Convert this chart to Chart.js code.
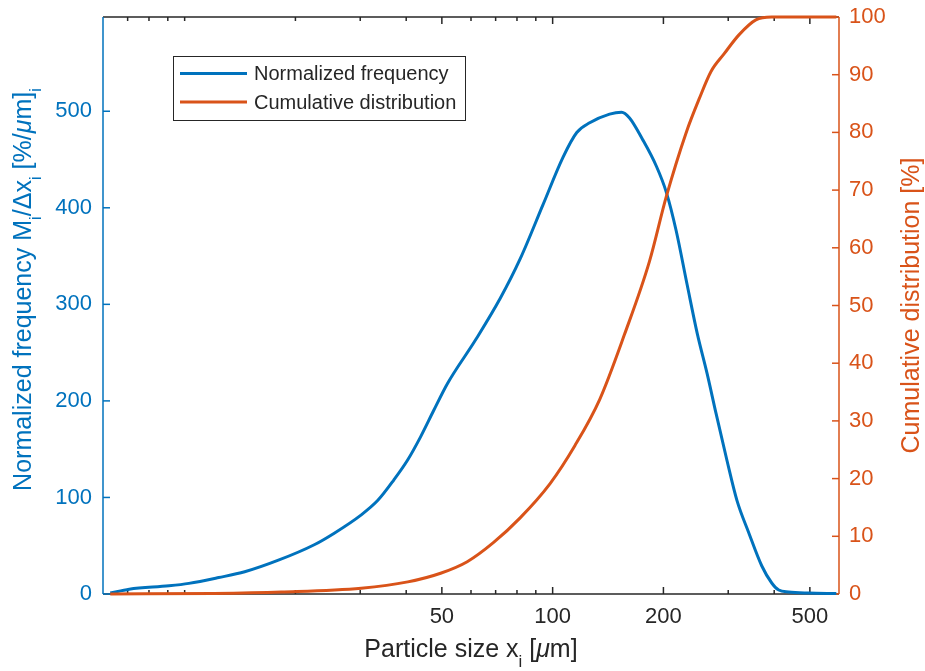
<!DOCTYPE html>
<html>
<head>
<title>Particle size distribution</title>
<script src="https://cdn.jsdelivr.net/npm/chart.js@4.4.0/dist/chart.umd.min.js"></script>
<style>
  html, body { margin: 0; padding: 0; background: #fff; }
  #chartBox { width: 925px; height: 671px; }
</style>
</head>
<body>
<div id="chartBox"><canvas id="psdChart" width="925" height="671"></canvas></div>
<script>
// normalized frequency: particle size [um] -> M_i/dx_i [%/um]
var freqSize  = [6.28, 7.07, 9.07, 10.27, 12.38, 14.56, 17.98, 22.5, 25.5, 30.2, 33.5, 37.0, 40.4, 43.8, 47.5, 51.8,
                 61.7, 72.0, 81.6, 94.1, 106.6, 116.3, 126.1, 142.8, 153.9, 161.8, 175.4, 191.4, 203.7, 216.7, 232.1,
                 247.1, 263.0, 278.0, 297.8, 316.8, 341.5, 370.2, 393.9, 411.5, 437.8, 496, 590];
var freqValue = [1, 5, 8.5, 11, 17, 23, 35, 51, 63, 82, 97, 118, 139, 163, 190, 218,
                 263, 306, 347, 403, 452, 478, 488, 497, 499, 493, 471, 443, 416, 376, 320,
                 270, 228, 187, 138, 97, 63, 29, 11.4, 4.1, 2.1, 1.0, 0.5];

// cumulative distribution: particle size [um] -> passing [%]
var cumSize  = [6.28, 12, 18.3, 30.2, 40.4, 49.6, 58.6, 69.0, 81.6, 98.3, 114.9, 134.2, 156.8, 183.2, 203.7,
                230.7, 250.1, 269.6, 292.2, 320.8, 356.6, 393.9, 466, 590];
var cumValue = [0, 0.1, 0.35, 1.0, 2.1, 3.6, 5.6, 8.9, 13.2, 19.1, 25.7, 33.7, 45.0, 57.6, 68.9,
                80.0, 85.8, 90.6, 93.6, 96.9, 99.5, 100, 100, 100];

// axis ticks
var xTicks = [7, 8, 9, 10, 20, 30, 40, 50, 60, 70, 80, 90, 100, 200, 300, 400, 500];
var xTickLabels = [50, 100, 200, 500];
var freqTicks = [0, 100, 200, 300, 400, 500];
var cumTicks = [0, 10, 20, 30, 40, 50, 60, 70, 80, 90, 100];

var BLUE = '#0072BD';
var ORANGE = '#D95319';
var DARK = '#262626';
var FONT = '"Liberation Sans", Arial, Helvetica, sans-serif';

Chart.defaults.font.family = FONT;

function toPoints(xs, ys) {
    return xs.map(function (x, i) { return { x: x, y: ys[i] }; });
}

// text with subscripts / italic pieces
function richWidth(ctx, parts, size) {
    var w = 0;
    parts.forEach(function (p) {
        ctx.font = (p.it ? 'italic ' : '') + (p.sub ? size * 0.67 : size) + 'px ' + FONT;
        w += ctx.measureText(p.t).width;
    });
    return w;
}

function drawRich(ctx, parts, size, x, y) {
    parts.forEach(function (p) {
        ctx.font = (p.it ? 'italic ' : '') + (p.sub ? size * 0.67 : size) + 'px ' + FONT;
        ctx.fillText(p.t, x, p.sub ? y + size * 0.4 : y);
        x += ctx.measureText(p.t).width;
    });
}

var xTitle = [{ t: 'Particle size x' }, { t: 'i', sub: true }, { t: ' [' }, { t: '\u03bc', it: true }, { t: 'm]' }];
var freqTitle = [{ t: 'Normalized frequency M' }, { t: 'i', sub: true }, { t: '/\u0394x' }, { t: 'i', sub: true },
                 { t: ' [%/' }, { t: '\u03bc', it: true }, { t: 'm]' }, { t: 'i', sub: true }];
var cumTitle = [{ t: 'Cumulative distribution [%]' }];

// no extra room for tick labels hanging past the axis ends
function fixBox(w, h) {
    return function (s) {
        if (w) s.width = w;
        if (h) s.height = h;
        s.paddingTop = 0; s.paddingBottom = 0;
        s.paddingLeft = 0; s.paddingRight = 0;
    };
}

// axis lines and inward tick marks, legend, axis titles
var framePlugin = {
    id: 'frame',
    beforeDatasetsDraw: function (chart) {
        var ctx = chart.ctx, a = chart.chartArea;
        var sx = chart.scales.x, yl = chart.scales.yFreq, yr = chart.scales.yCum;
        function seg(x1, y1, x2, y2) {
            ctx.beginPath(); ctx.moveTo(x1, y1); ctx.lineTo(x2, y2); ctx.stroke();
        }
        ctx.save();
        ctx.lineWidth = 1.5;
        ctx.strokeStyle = DARK;
        seg(a.left, a.top, a.right, a.top);
        seg(a.left, a.bottom, a.right, a.bottom);
        xTicks.forEach(function (v) {
            var px = sx.getPixelForValue(v);
            var len = xTickLabels.indexOf(v) >= 0 ? 7 : 4;
            seg(px, a.bottom, px, a.bottom - len);
            seg(px, a.top, px, a.top + len);
        });
        ctx.strokeStyle = BLUE;
        seg(a.left, a.top, a.left, a.bottom);
        freqTicks.forEach(function (v) {
            var py = yl.getPixelForValue(v);
            seg(a.left, py, a.left + 7, py);
        });
        ctx.strokeStyle = ORANGE;
        seg(a.right, a.top, a.right, a.bottom);
        cumTicks.forEach(function (v) {
            var py = yr.getPixelForValue(v);
            seg(a.right, py, a.right - 7, py);
        });
        ctx.restore();
    },
    afterDraw: function (chart) {
        var ctx = chart.ctx, a = chart.chartArea;
        var midY = (a.top + a.bottom) / 2;
        ctx.save();
        ctx.textBaseline = 'alphabetic';
        ctx.textAlign = 'left';

        ctx.fillStyle = DARK;
        var w = richWidth(ctx, xTitle, 25);
        drawRich(ctx, xTitle, 25, (a.left + a.right) / 2 - w / 2, 657);

        ctx.save();
        ctx.translate(31, midY - 16);
        ctx.rotate(-Math.PI / 2);
        ctx.fillStyle = BLUE;
        w = richWidth(ctx, freqTitle, 25);
        drawRich(ctx, freqTitle, 25, -w / 2, 0);
        ctx.restore();

        ctx.save();
        ctx.translate(919, midY);
        ctx.rotate(-Math.PI / 2);
        ctx.fillStyle = ORANGE;
        w = richWidth(ctx, cumTitle, 25);
        drawRich(ctx, cumTitle, 25, -w / 2, 0);
        ctx.restore();

        // legend
        var bx = 173, by = 56, bw = 292, bh = 64;
        ctx.fillStyle = '#fff';
        ctx.fillRect(bx, by, bw, bh);
        ctx.strokeStyle = DARK;
        ctx.lineWidth = 1;
        ctx.strokeRect(bx + 0.5, by + 0.5, bw, bh);
        ctx.font = '20px ' + FONT;
        ctx.textBaseline = 'middle';
        chart.data.datasets.forEach(function (ds, i) {
            var ly = by + 17.5 + i * 28.5;
            ctx.strokeStyle = ds.borderColor;
            ctx.lineWidth = 3;
            ctx.beginPath(); ctx.moveTo(180, ly); ctx.lineTo(247, ly); ctx.stroke();
            ctx.fillStyle = DARK;
            ctx.fillText(ds.label, 254, ly + 1);
        });
        ctx.restore();
    }
};

var ctx = document.getElementById('psdChart').getContext('2d');

var psdChart = new Chart(ctx, {
    type: 'line',
    data: {
        datasets: [{
            label: 'Normalized frequency',
            data: toPoints(freqSize, freqValue),
            yAxisID: 'yFreq',
            borderColor: BLUE,
            borderWidth: 3,
            pointRadius: 0,
            cubicInterpolationMode: 'monotone',
            fill: false,
            clip: false,
            order: 1
        }, {
            label: 'Cumulative distribution',
            data: toPoints(cumSize, cumValue),
            yAxisID: 'yCum',
            borderColor: ORANGE,
            borderWidth: 3,
            pointRadius: 0,
            cubicInterpolationMode: 'monotone',
            fill: false,
            clip: false,
            order: 0
        }]
    },
    options: {
        responsive: false,
        animation: false,
        devicePixelRatio: 1,
        layout: { padding: { top: 17, left: 0, right: 0, bottom: 0 } },
        plugins: {
            legend: { display: false },
            tooltip: { enabled: false }
        },
        scales: {
            x: {
                type: 'logarithmic',
                position: 'bottom',
                min: 6,
                max: 600,
                grid: { display: false, drawTicks: false },
                border: { display: false },
                afterBuildTicks: function (s) {
                    s.ticks = xTicks.map(function (v) { return { value: v, major: xTickLabels.indexOf(v) >= 0 }; });
                },
                afterFit: fixBox(0, 77),
                ticks: {
                    autoSkip: false,
                    maxRotation: 0,
                    padding: 10,
                    color: DARK,
                    font: { size: 22 },
                    callback: function (value) {
                        return xTickLabels.indexOf(value) >= 0 ? String(value) : '';
                    }
                }
            },
            yFreq: {
                type: 'linear',
                position: 'left',
                min: 0,
                max: 597.6,
                grid: { display: false, drawTicks: false },
                border: { display: false },
                afterBuildTicks: function (s) {
                    s.ticks = freqTicks.map(function (v) { return { value: v }; });
                },
                afterFit: fixBox(103, 0),
                ticks: { padding: 11, color: BLUE, font: { size: 22 } }
            },
            yCum: {
                type: 'linear',
                position: 'right',
                min: 0,
                max: 100,
                grid: { display: false, drawTicks: false },
                border: { display: false },
                afterBuildTicks: function (s) {
                    s.ticks = cumTicks.map(function (v) { return { value: v }; });
                },
                afterFit: fixBox(86, 0),
                ticks: { padding: 10, color: ORANGE, font: { size: 22 } }
            }
        }
    },
    plugins: [framePlugin]
});
</script>
</body>
</html>
